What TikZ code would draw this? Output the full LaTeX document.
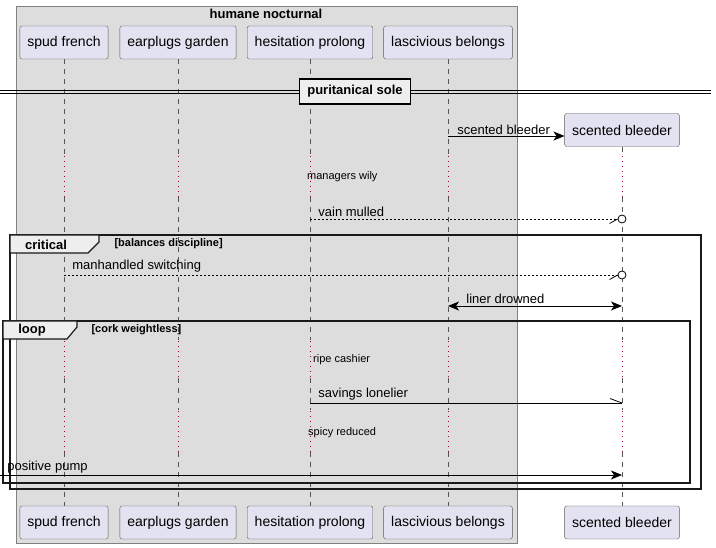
\documentclass[tikz,border=0pt]{standalone}
\usepackage{fontspec}
\setmainfont{Liberation Sans}
\usepackage{tikz}
\usetikzlibrary{positioning,calc,arrows.meta}
\definecolor{partFill}{HTML}{E2E2F0}
\definecolor{boxGray}{HTML}{DDDDDD}
\definecolor{tabGray}{HTML}{EEEEEE}
\definecolor{lifeGray}{HTML}{555555}
\definecolor{delayRed}{HTML}{A80036}
\colorlet{frameBlack}{black!90}

\begin{document}
\begin{tikzpicture}[x=1pt, y=-1pt,
        every node/.style={font=\fontsize{13}{15}\selectfont, align=center},
        part/.style={draw=gray!70!black, fill=partFill, rounded corners=2pt,
            minimum height=33pt, inner xsep=7.5pt, font=\fontsize{14}{16}\selectfont},
        lifeline/.style={lifeGray, dash pattern=on 5pt off 5pt, line width=0.6pt},
        delay/.style={delayRed, dash pattern=on 1pt off 4pt, line width=0.8pt},
        msg/.style={line width=0.8pt},
        msgtext/.style={anchor=south west, inner sep=1pt},
        delaytext/.style={font=\fontsize{11}{13}\selectfont, anchor=west, inner sep=1pt},
        frame/.style={draw=frameBlack, line width=1.5pt},
        tab/.style={draw=frameBlack, fill=tabGray, line width=1.2pt},
        head/.style={font=\bfseries\fontsize{13}{15}\selectfont},
        guard/.style={font=\bfseries\fontsize{11}{13}\selectfont, anchor=west},
        tip/.style={-{Stealth[length=11pt, width=9pt, inset=3pt]}}]
    \useasboundingbox (0,0) rectangle (716,548);
    \fill[white] (0,0) rectangle (716,548);

    % box round the four participants
    \draw[gray, fill=boxGray] (16,6) rectangle (517,543);
    \node[head] (boxtitle) at (266,14) {humane nocturnal};

    % participants, top and bottom
    \node[part] (sf) at (64,42.5) {spud french};
    \node[part] (eg) at (178,42.5) {earplugs garden};
    \node[part] (hp) at (310,42.5) {hesitation prolong};
    \node[part] (lb) at (448,42.5) {lascivious belongs};
    \node[part] (sb) at (622,130) {scented bleeder};
    \node[part] (sf-b) at (64,522.5) {spud french};
    \node[part] (eg-b) at (178,522.5) {earplugs garden};
    \node[part] (hp-b) at (310,522.5) {hesitation prolong};
    \node[part] (lb-b) at (448,522.5) {lascivious belongs};
    \node[part] (sb-b) at (622,522.5) {scented bleeder};

    % lifelines, with the three delays
    \foreach \p in {sf,eg,hp,lb,sb}{
        \draw[lifeline] (\p.south) -- (\p.south |- 0,155);
        \draw[delay] (\p.south |- 0,156) -- (\p.south |- 0,197);
        \draw[lifeline] (\p.south |- 0,197) -- (\p.south |- 0,340);
        \draw[delay] (\p.south |- 0,341) -- (\p.south |- 0,378);
        \draw[lifeline] (\p.south |- 0,378) -- (\p.south |- 0,410);
        \draw[delay] (\p.south |- 0,411) -- (\p.south |- 0,452);
        \draw[lifeline] (\p.south |- 0,452) -- (\p-b.north);
    }

    % divider
    \coordinate (divL) at (0,91.8);
    \coordinate (divR) at (711,91.8);
    \draw[line width=1pt] ([yshift=-1.6pt]divL) -- ([yshift=-1.6pt]divR);
    \draw[line width=1pt] ([yshift=1.6pt]divL) -- ([yshift=1.6pt]divR);
    \node[draw, fill=tabGray, line width=1.5pt, minimum height=25pt, inner xsep=8pt,
        font=\bfseries\fontsize{13}{15}\selectfont] (div) at (355,91.5) {puritanical sole};

    % create message
    \draw[msg, tip] (lb.south |- 0,136) -- (sb.west |- 0,136)
        node[msgtext, pos=0, xshift=8pt] {scented bleeder};

    \node[delaytext] (d1) at (306,177) {managers wily};

    % vain mulled
    \node[draw, circle, line width=0.8pt, minimum size=8pt, inner sep=0pt, fill=white] (c1) at (sb.south |- 0,219) {};
    \draw[msg, dash pattern=on 2pt off 2pt] (hp.south |- 0,219) -- (c1.west)
        node[msgtext, pos=0, xshift=7pt, yshift=1pt] {vain mulled};
    \draw[msg] (c1.west) -- ++(-8,4.5);

    % critical group
    \draw[frame] (10,235) rectangle (701,489);
    \draw[tab] (10,235) -- (99,235) -- (99,242) -- (88,253) -- (10,253) -- cycle;
    \node[head] (crit) at (46,244.5) {critical};
    \node[guard] (critguard) at (111,244) {[balances discipline]};

    % manhandled switching
    \node[draw, circle, line width=0.8pt, minimum size=8pt, inner sep=0pt, fill=white] (c2) at (sb.south |- 0,275) {};
    \draw[msg, dash pattern=on 2pt off 2pt] (sf.south |- 0,275) -- (c2.west)
        node[msgtext, pos=0, xshift=7pt, yshift=1pt] {manhandled switching};
    \draw[msg] (c2.west) -- ++(-8,4.5);

    % liner drowned
    \draw[msg, {Stealth[length=11pt, width=9pt, inset=3pt]}-{Stealth[length=11pt, width=9pt, inset=3pt]}]
        (lb.south |- 0,306) -- (sb.south |- 0,306)
        node[msgtext, pos=0, xshift=17pt, yshift=1pt] {liner drowned};

    % loop group
    \draw[frame] (3,321) rectangle (690,483);
    \draw[tab] (3,321) -- (77,321) -- (77,327) -- (67,339) -- (3,339) -- cycle;
    \node[head] (loophead) at (32,330.5) {loop};
    \node[guard] (loopguard) at (88,330) {[cork weightless]};

    \node[delaytext] (d2) at (312,360) {ripe cashier};

    % savings lonelier
    \draw[msg] (hp.south |- 0,403) -- (sb.south |- 0,403)
        node[msgtext, pos=0, xshift=7pt, yshift=1pt] {savings lonelier};
    \draw[msg] (sb.south |- 0,403) -- ++(-12,-4.5);

    \node[delaytext] (d3) at (307,433) {spicy reduced};

    % positive pump, from outside
    \coordinate (outL) at (0,475);
    \draw[msg, tip] (outL) -- (sb.south |- 0,475)
        node[msgtext, pos=0, xshift=6pt, yshift=0pt] {positive pump};
\end{tikzpicture}
\end{document}
